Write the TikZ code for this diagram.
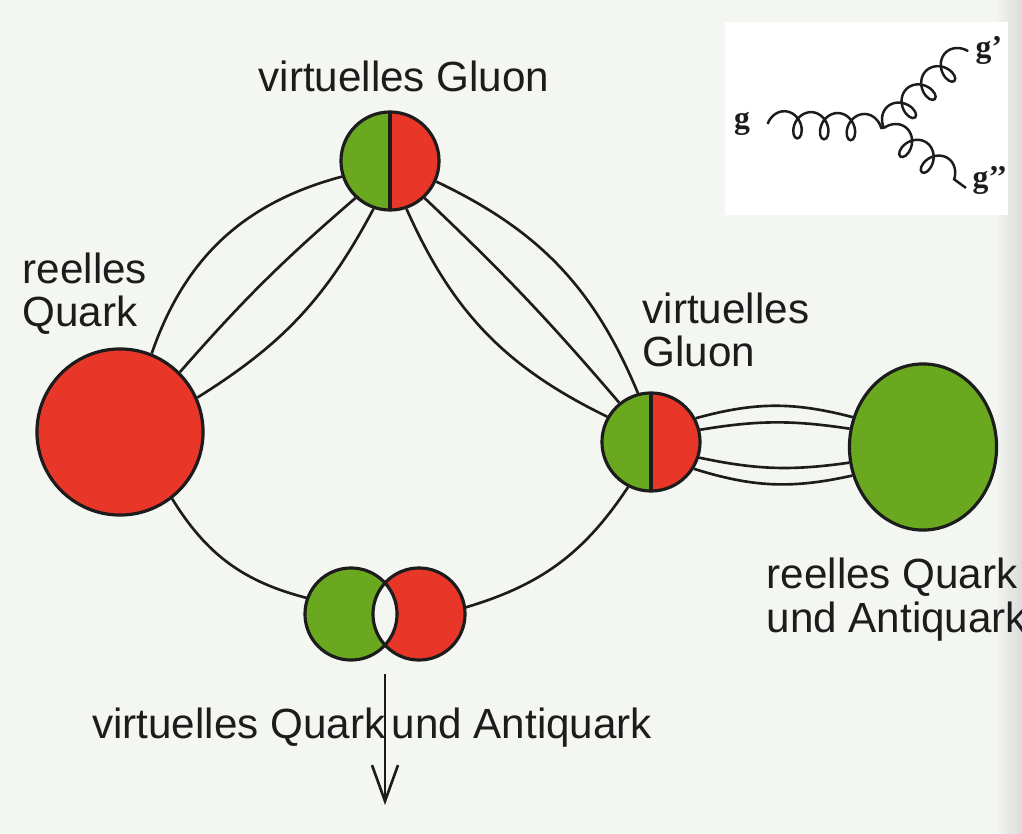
\documentclass[tikz,border=0pt]{standalone}
\usepackage{fontspec}
\setmainfont{Liberation Sans}
\newfontfamily\gfont{Liberation Serif}
\usetikzlibrary{shapes.geometric,arrows.meta,decorations.pathmorphing,positioning}
\definecolor{qred}{RGB}{232,54,40}
\definecolor{qgreen}{RGB}{106,168,32}
\definecolor{paper}{RGB}{244,246,242}
\definecolor{ink}{RGB}{28,28,28}

\begin{document}
\begin{tikzpicture}[x=0.01cm, y=-0.01cm,
    quark/.style={circle, draw=ink, line width=0.9pt, inner sep=0pt},
    vgluon/.style={circle, draw=ink, line width=0.9pt, inner sep=0pt, minimum size=0.98cm,
      path picture={
        \fill[qgreen] (path picture bounding box.south west) rectangle (path picture bounding box.north);
        \fill[qred] (path picture bounding box.south) rectangle (path picture bounding box.north east);
        \draw[ink, line width=1.1pt] (path picture bounding box.south) -- (path picture bounding box.north);}},
    strand/.style={draw=ink, line width=0.75pt},
    caption/.style={font=\fontsize{12}{12.5}\selectfont, text=ink, align=left, inner sep=0pt},
    spring/.style={draw=ink, line width=0.7pt, decorate,
      decoration={coil, amplitude=3.8pt, segment length=7.6pt, aspect=0.75}},
    glabel/.style={font=\gfont\bfseries\fontsize{9}{10}\selectfont, text=ink, inner sep=0pt}]
   \useasboundingbox (0,0) rectangle (1022,834);
   \fill[paper] (0,0) rectangle (1022,834);
   \shade[left color=paper, right color=black!14] (995,0) rectangle (1022,834);
   \fill[white] (725,22) rectangle (1008,215);

   % quarks and gluons
   \node[quark, fill=qred, minimum size=1.66cm] (Qleft) at (120,432) {};
   \node[quark, ellipse, fill=qgreen, minimum width=1.47cm, minimum height=1.66cm] (Qright) at (923,447) {};
   \node[vgluon] (Gtop) at (390,161) {};
   \node[vgluon] (Gright) at (651,442) {};

   % virtual quark pair, white where they overlap
   \node[circle, fill=qgreen, minimum size=0.92cm, inner sep=0pt] (Vq) at (351,614) {};
   \node[circle, fill=qred, minimum size=0.92cm, inner sep=0pt] (Vaq) at (419,614) {};
   \begin{scope}
     \clip (Vq.center) circle[radius=0.46cm];
     \fill[paper] (Vaq.center) circle[radius=0.46cm];
   \end{scope}
   \draw[ink, line width=0.9pt] (Vq.center) circle[radius=0.46cm] (Vaq.center) circle[radius=0.46cm];

   % field lines
   \draw[strand] (Qleft.68) to[bend left=28] (Gtop.198);
   \draw[strand] (Qleft.45) to[bend left=4] (Gtop.227);
   \draw[strand] (Qleft.24) to[bend right=15] (Gtop.251);
   \draw[strand] (Gtop.-24) to[bend left=21] (Gright.105);
   \draw[strand] (Gtop.-47) to[bend left=3] (Gright.129);
   \draw[strand] (Gtop.-71) to[bend right=20] (Gright.150);
   \draw[strand] (Gright.28) to[bend left=15] (Qright.157);
   \draw[strand] (Gright.14) to[bend left=9] (Qright.166);
   \draw[strand] (Gright.-18) to[bend right=10] (Qright.192);
   \draw[strand] (Gright.-32) to[bend right=15] (Qright.202);
   \draw[strand] (Qleft.-52) to[bend right=22] (Vq.160);
   \draw[strand] (Vaq.8) to[bend right=20] (Gright.243);

   \coordinate (Vstart) at (385,674);
   \coordinate (Vend) at (385,805);
   \draw[ink, line width=0.75pt, -{Straight Barb[length=0.36cm, width=0.26cm]}] (Vstart) -- (Vend);

   % captions (base = last line)
   \node[caption, anchor=base] (LblGtop) at (404,92) {virtuelles Gluon};
   \node[caption, anchor=base west] (LblQleft) at (22,327) {reelles\\Quark};
   \node[caption, anchor=base west] (LblGright) at (642,367) {virtuelles\\Gluon};
   \node[caption, anchor=base west] (LblQright) at (766,632) {reelles Quark\\und Antiquark};
   \node[caption, anchor=base east] (LblVq) at (386,738) {virtuelles Quark};
   \node[caption, anchor=base west] (LblVaq) at (391,738) {und Antiquark};

   % gluon splitting g -> g' g''
   \node[glabel] (gIn) at (742,124) {g};
   \coordinate (Vtx) at (884,128);
   \coordinate (gEnd1) at (968,50);
   \coordinate (gEnd2) at (966,188);
   \node[glabel, anchor=west] (gOut1) at (975,50) {g’};
   \node[glabel, anchor=west] (gOut2) at (972,180) {g’’};
   \draw[spring] ([xshift=0.17cm]gIn.east) -- (Vtx);
   \draw[spring] (Vtx) -- (gEnd1);
   \draw[spring] (Vtx) -- (gEnd2);
\end{tikzpicture}
\end{document}
